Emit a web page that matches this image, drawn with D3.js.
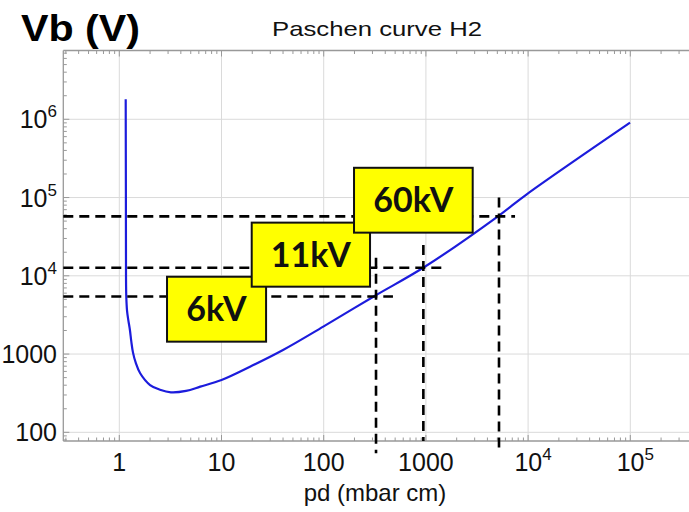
<!DOCTYPE html>
<meta charset="utf-8">
<html>
  <head>
    <script src="https://d3js.org/d3.v7.min.js"></script>
    <style>
      body { margin: 0; background: white; }
      svg { display: block; font-family: "Liberation Sans", Arial, sans-serif; }
    </style>
  </head>
  <body>
    <div id="chart"></div>
    <script>
      // curve points (pd in mbar cm, Vb in V)
      const pdValues = [1.155, 1.16, 1.163, 1.17, 1.19, 1.225, 1.27, 1.31, 1.36, 1.45, 1.6, 2.0, 2.5, 3.2, 4.5, 6.2, 10, 19, 40, 99, 318, 958, 5110, 9690, 99400];
      const vbValues = [1.8e6, 1e5, 1e4, 5500, 3600, 2720, 2030, 1450, 1050, 770, 568, 402, 350, 324, 338, 383, 466, 689, 1127, 2240, 5570, 12850, 58000, 110000, 906000];

      // breakdown levels marked with dashed lines
      const levelLabels = ["6kV", "11kV", "60kV"];
      const levelVb = [5450, 12650, 57500];
      const levelPd = [325, 944, 5190];
      const hDashEndPd = [476, 1440, 7450];
      const vDashTopVb = [17000, 24800, 100000];
      const vDashBottomVb = [54, 77.4, 54];

      // label boxes, in data units
      const boxPdLeft = [2.93, 19.75, 198];
      const boxPdRight = [27.3, 284, 2870];
      const boxVbTop = [9730, 47800, 240000];
      const boxVbBottom = [1440, 7260, 35600];

      const xTicks = [1, 10, 100, 1000, 1e4, 1e5];
      const xTickLabels = [["1"], ["10"], ["100"], ["1000"], ["10", "4"], ["10", "5"]];
      const yTicks = [100, 1000, 1e4, 1e5, 1e6];
      const yTickLabels = [["100"], ["1000"], ["10", "4"], ["10", "5"], ["10", "6"]];

      const width = 689, height = 512;
      const plot = {left: 63.3, right: 695, top: 50.5, bottom: 441};

      const x = d3.scaleLog()
        .domain([Math.pow(10, -0.548), Math.pow(10, 5.633)])
        .range([plot.left, plot.right]);
      const y = d3.scaleLog()
        .domain([Math.pow(10, 1.889), Math.pow(10, 6.879)])
        .range([plot.bottom, plot.top]);

      const svg = d3.select("#chart").append("svg")
        .attr("width", width)
        .attr("height", height);

      // minor tick values
      const minor = (lo, hi) => {
        let out = [];
        for (let e = Math.floor(Math.log10(lo)); e <= Math.ceil(Math.log10(hi)); e++) {
          for (let k = 1; k < 10; k++) {
            const v = k * Math.pow(10, e);
            if (v >= lo && v <= hi) out.push(v);
          }
        }
        return out;
      };
      const [xlo, xhi] = x.domain();
      const [ylo, yhi] = y.domain();

      // grid
      svg.append("g").selectAll("line").data(xTicks).join("line")
        .attr("x1", d => x(d)).attr("x2", d => x(d))
        .attr("y1", plot.top).attr("y2", plot.bottom)
        .attr("stroke", "#dadada").attr("stroke-width", 1);
      svg.append("g").selectAll("line").data(yTicks).join("line")
        .attr("x1", plot.left).attr("x2", plot.right)
        .attr("y1", d => y(d)).attr("y2", d => y(d))
        .attr("stroke", "#dadada").attr("stroke-width", 1);

      // frame
      const frameColor = "#999";
      svg.append("line").attr("x1", plot.left).attr("x2", plot.right)
        .attr("y1", plot.bottom).attr("y2", plot.bottom)
        .attr("stroke", frameColor).attr("stroke-width", 1.3);
      svg.append("line").attr("x1", plot.left).attr("x2", plot.right)
        .attr("y1", plot.top).attr("y2", plot.top)
        .attr("stroke", frameColor).attr("stroke-width", 1.3);
      svg.append("line").attr("x1", plot.left).attr("x2", plot.left)
        .attr("y1", plot.top).attr("y2", plot.bottom)
        .attr("stroke", frameColor).attr("stroke-width", 1.3);

      // ticks
      const isMajor = v => Math.abs(Math.log10(v) - Math.round(Math.log10(v))) < 1e-9;
      const xm = minor(xlo, xhi);
      svg.append("g").selectAll("line").data(xm).join("line")
        .attr("x1", d => x(d)).attr("x2", d => x(d))
        .attr("y1", plot.bottom).attr("y2", d => plot.bottom - (isMajor(d) ? 6 : 3.5))
        .attr("stroke", frameColor);
      svg.append("g").selectAll("line").data(xm).join("line")
        .attr("x1", d => x(d)).attr("x2", d => x(d))
        .attr("y1", plot.top).attr("y2", d => plot.top + (isMajor(d) ? 6 : 3.5))
        .attr("stroke", frameColor);
      const ym = minor(ylo, yhi);
      svg.append("g").selectAll("line").data(ym).join("line")
        .attr("y1", d => y(d)).attr("y2", d => y(d))
        .attr("x1", plot.left).attr("x2", d => plot.left + (isMajor(d) ? 6 : 3.5))
        .attr("stroke", frameColor);

      // tick labels
      const addLabel = (g, parts) => {
        g.append("tspan").text(parts[0]);
        if (parts.length > 1) {
          g.append("tspan").attr("dy", -11).attr("font-size", 17).text(parts[1]);
        }
      };
      xTicks.forEach((t, i) => {
        const parts = xTickLabels[i];
        const g = svg.append("text")
          .attr("x", x(t) + (parts.length > 1 ? 5 : 0))
          .attr("y", 471)
          .attr("text-anchor", "middle")
          .attr("font-size", 25)
          .attr("fill", "#111");
        addLabel(g, parts);
      });
      yTicks.forEach((t, i) => {
        const parts = yTickLabels[i];
        const g = svg.append("text")
          .attr("x", 57)
          .attr("y", y(t) + 9)
          .attr("text-anchor", "end")
          .attr("font-size", 25)
          .attr("fill", "#111");
        addLabel(g, parts);
      });

      // titles
      svg.append("text")
        .attr("x", 21).attr("y", 41)
        .attr("font-size", 36).attr("font-weight", "bold")
        .attr("textLength", 119).attr("lengthAdjust", "spacingAndGlyphs")
        .text("Vb (V)");
      svg.append("text")
        .attr("x", 272).attr("y", 36)
        .attr("font-size", 21)
        .attr("fill", "#111")
        .attr("textLength", 210).attr("lengthAdjust", "spacingAndGlyphs")
        .text("Paschen curve H2");
      svg.append("text")
        .attr("x", 375).attr("y", 501)
        .attr("text-anchor", "middle")
        .attr("font-size", 24)
        .attr("fill", "#111")
        .text("pd (mbar cm)");

      // curve
      const curveData = pdValues.map((p, i) => ({pd: p, vb: vbValues[i]}));
      const line = d3.line()
        .x(d => x(d.pd))
        .y(d => y(d.vb))
        .curve(d3.curveCatmullRom.alpha(0.5));
      svg.append("path")
        .datum(curveData)
        .attr("d", line)
        .attr("fill", "none")
        .attr("stroke", "#1c1cdc")
        .attr("stroke-width", 2.2);

      // dashed guides
      const dash = svg.append("g")
        .attr("stroke", "black")
        .attr("stroke-width", 2.6)
        .attr("stroke-dasharray", "10,6");
      levelVb.forEach((v, i) => {
        dash.append("line")
          .attr("x1", plot.left).attr("x2", x(hDashEndPd[i]))
          .attr("y1", y(v)).attr("y2", y(v));
        dash.append("line")
          .attr("x1", x(levelPd[i])).attr("x2", x(levelPd[i]))
          .attr("y1", y(vDashTopVb[i])).attr("y2", y(vDashBottomVb[i]));
      });

      // label boxes
      levelLabels.forEach((lab, i) => {
        const x0 = x(boxPdLeft[i]), x1 = x(boxPdRight[i]);
        const y0 = y(boxVbTop[i]), y1 = y(boxVbBottom[i]);
        svg.append("rect")
          .attr("x", x0).attr("y", y0)
          .attr("width", x1 - x0).attr("height", y1 - y0)
          .attr("fill", "#ffff00")
          .attr("stroke", "#111")
          .attr("stroke-width", 2);
        svg.append("text")
          .attr("x", (x0 + x1) / 2)
          .attr("y", (y0 + y1) / 2 + 12)
          .attr("text-anchor", "middle")
          .attr("font-family", "Lato, 'Open Sans', sans-serif")
          .attr("font-weight", "bold")
          .attr("font-size", 34)
          .attr("fill", "#111")
          .text(lab);
      });
    </script>
  </body>
</html>
